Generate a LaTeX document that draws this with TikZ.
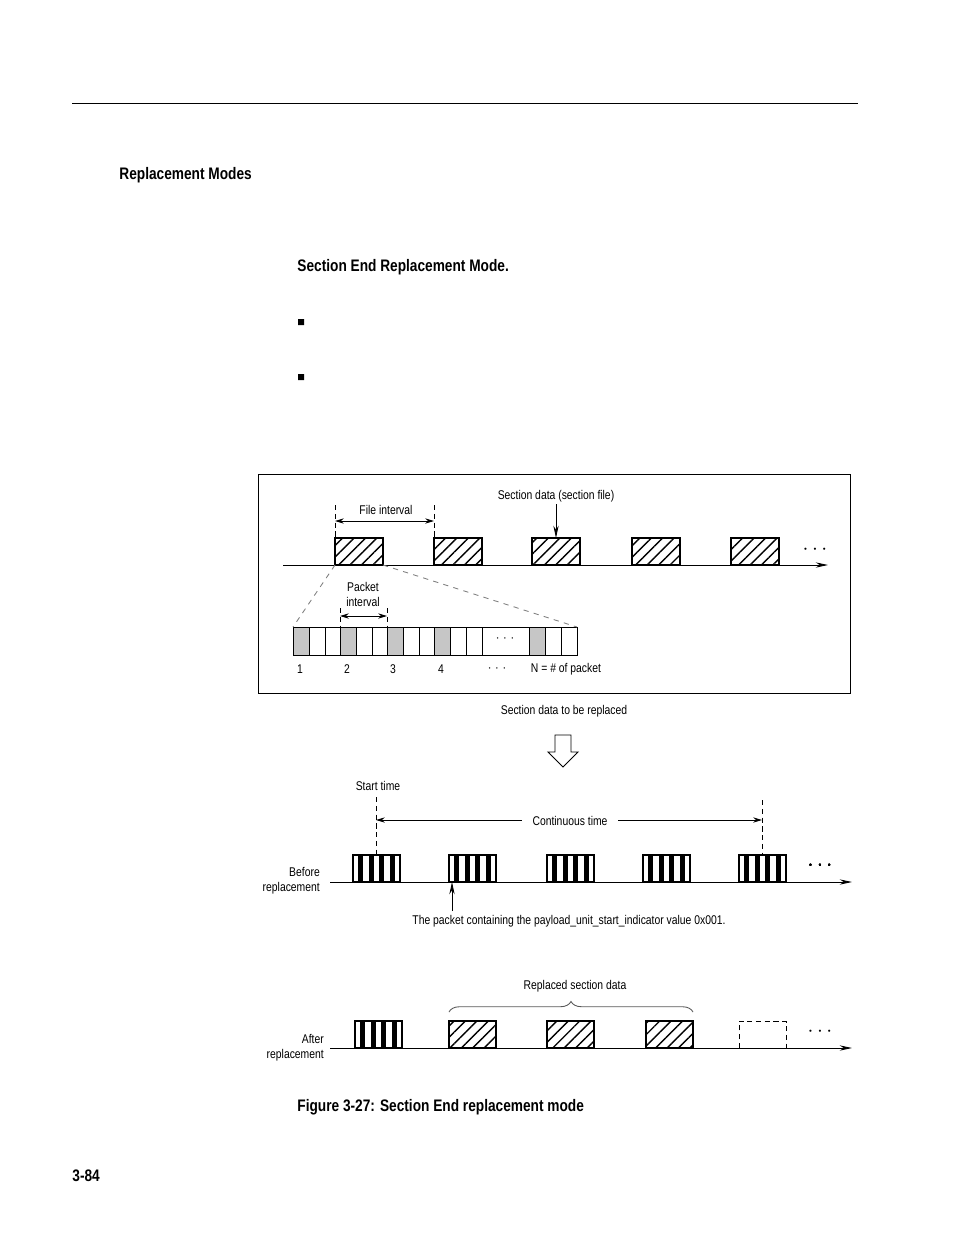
\documentclass[tikz,border=0pt]{standalone}
\usepackage{fontspec}
\setmainfont{Liberation Sans}[FakeStretch=0.82]
\usetikzlibrary{patterns.meta,decorations.pathreplacing,arrows.meta}
\tikzset{
  lbl/.style={inner sep=1pt,font=\fontsize{7.2}{8.5}\selectfont},
  head/.style={inner sep=0pt,font=\fontsize{9.5}{11}\selectfont\bfseries},
  hatchbox/.style={draw,thick,pattern={Lines[angle=45,distance=4.6pt,line width=.8pt]}},
  dim/.style={<->,>={Stealth[length=5pt,width=3pt]}},
  axis/.style={->,>={Stealth[length=7pt,width=3pt]}}
}
\newcommand{\stripes}[2]{% x, y of lower left corner
  \foreach \k in {1,3,5,7} \fill (#1+\k*5.22,#2) rectangle ++(5.22,-27);
  \draw[thick] (#1,#2) rectangle ++(47,-27);}
\begin{document}
\begin{tikzpicture}[x=0.02cm,y=-0.02cm,line width=.5pt]
  \useasboundingbox (0,0) rectangle (954,1235);
  \draw (72,103)--(858,103);
  \node[head,anchor=west] (title) at (119,175) {Replacement Modes};
  \node[head,anchor=west] (sub) at (297,267) {Section End Replacement Mode.};
  \fill (298,319) rectangle ++(6,6) (298,374) rectangle ++(6,6);
  % upper box
  \draw (258,474) rectangle (850,693);
  \draw[axis] (283,565)--(828,565);
  \foreach \x in {335,434,532,632,731} \draw[hatchbox] (\x,565) rectangle ++(48,-27);
  \node[lbl,font=\large] (dotsA) at (815,550) {$\cdots$};
  \draw[densely dashed] (335,505)--(335,538) (434,505)--(434,538);
  \draw[dim] (335,521)--(434,521);
  \node[lbl] (fint) at (386,510) {File interval};
  \node[lbl] (sdata) at (556,496) {Section data (section file)};
  \coordinate (sbox) at (556,538);
  \draw[axis] (sdata.south)--(sbox);
  % packets
  \foreach \x/\c in {293/gray!45,309/white,325/white,340/gray!45,356/white,372/white,
    387/gray!45,403/white,419/white,434/gray!45,450/white,466/white,529/gray!45,545/white,561/white}
    \draw[fill=\c] (\x,627) rectangle ++(16,28);
  \draw (482,627) rectangle (529,655);
  \node[lbl] (pdots) at (505,639) {$\cdot\cdot\cdot$};
  \draw[dashed,gray] (335,565)--(293,627) (383,565)--(577,627);
  \draw[densely dashed] (340,608)--(340,627) (387,608)--(387,627);
  \draw[dim] (340,616)--(387,616);
  \node[lbl,align=center] (pint) at (363,594) {Packet\\interval};
  \foreach \x/\t in {300/1,347/2,393/3,441/4,497/$\cdot\cdot\cdot$}
    \node[lbl] at (\x,669) {\t};
  \node[lbl] (npk) at (566,669) {N = \# of packet};
  \node[lbl] (torep) at (564,711) {Section data to be replaced};
  \draw (555,735)--(571,735)--(571,752)--(578,752)--(563,767)--(548,752)--(555,752)--cycle;
  % before replacement
  \node[lbl] (start) at (378,786) {Start time};
  \draw[densely dashed] (376,797)--(376,855) (762,800)--(762,855);
  \draw[dim] (376,820)--(762,820);
  \node[lbl,fill=white,inner xsep=6pt] (cont) at (570,821) {Continuous time};
  \draw[axis] (330,882)--(852,882);
  \foreach \x in {353,449,547,643,739} \stripes{\x}{882}
  \node[lbl,font=\large] (dotsB) at (820,866) {$\cdots$};
  \node[lbl,align=right,anchor=east] (bef) at (322,881) {Before\\replacement};
  \node[lbl] (pkt) at (569,921) {The packet containing the payload\_unit\_start\_indicator value 0x001.};
  \coordinate (pktbox) at (452,882);
  \draw[axis] (452,911)--(pktbox);
  % after replacement
  \draw[axis] (330,1048)--(852,1048);
  \stripes{355}{1048}
  \foreach \x in {449,547,646} \draw[hatchbox] (\x,1048) rectangle ++(47,-27);
  \draw[densely dashed] (739,1048) rectangle ++(47,-27);
  \node[lbl,font=\large] (dotsC) at (820,1032) {$\cdots$};
  \draw[decorate,decoration={brace,amplitude=6pt},gray!70!black] (449,1012)--(693,1012);
  \node[lbl] (repl) at (575,986) {Replaced section data};
  \node[lbl,align=right,anchor=east] (aft) at (326,1048) {After\\replacement};
  \node[head,anchor=west] (cap) at (297,1107) {Figure 3-27: Section End replacement mode};
  \node[head,anchor=west] (page) at (72,1176) {3-84};
\end{tikzpicture}
\end{document}
